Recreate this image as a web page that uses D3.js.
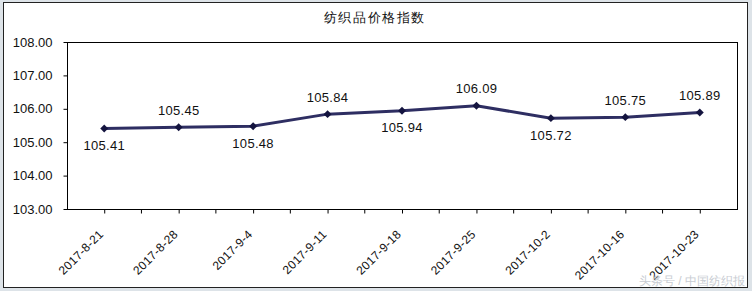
<html>
<script src='https://d3js.org/d3.v7.min.js'></script>
<style>
body {margin:0; background:#dde3e8;}
text {font-family: Arial, 'Liberation Sans', sans-serif; fill:#111;}
.axis path, .axis line {stroke:#000;}
</style>
<body onload='init()'>
<svg width=752 height=291></svg>
<script>
var title = '纺织品价格指数';
var dates = ['2017-8-21','2017-8-28','2017-9-4','2017-9-11','2017-9-18','2017-9-25','2017-10-2','2017-10-16','2017-10-23'];
var values = [105.41,105.45,105.48,105.84,105.94,106.09,105.72,105.75,105.89];
// label above (1) or below (-1) the point
var labelSide = [-1,1,-1,1,-1,1,-1,1,1];
var yTicks = [103,104,105,106,107,108];

function init() {
var svg = d3.select('svg');
var left = 67, right = 737, top = 42, bottom = 209;

svg.append('rect').attr('width',752).attr('height',291).attr('fill','#dde3e8');
svg.append('rect').attr('x',3.5).attr('y',2.5).attr('width',744).attr('height',285)
   .attr('fill','#fff').attr('stroke','#222');

var x = d3.scalePoint(dates,[left,right]).padding(0.5);
var y = d3.scaleLinear([103,108],[bottom,top]);

svg.append('text').attr('x',375).attr('y',22).attr('text-anchor','middle')
   .style('font-size','13px').style('letter-spacing','1.6px').text(title);

// plot frame
svg.append('rect').attr('x',left+0.5).attr('y',top+0.5)
   .attr('width',right-left).attr('height',bottom-top)
   .attr('fill','none').attr('stroke','#000');

svg.append('g').attr('class','axis')
  .attr('transform','translate('+(left+0.5)+',0)')
  .call(d3.axisLeft(y).tickValues(yTicks).tickSize(4).tickSizeOuter(0).tickPadding(11)
       .tickFormat(d3.format('.2f')))
  .call(g => g.selectAll('text').style('font-size','13px').attr('fill','#111'))
  .call(g => g.select('.domain').remove());

var xg = svg.append('g').attr('class','axis')
  .attr('transform','translate(0,'+(bottom+0.5)+')')
  .call(d3.axisBottom(x).tickSize(4).tickSizeOuter(0).tickFormat(''))
  .call(g => g.select('.domain').remove());

// boundary ticks between categories
var step = x.step();
xg.selectAll('line.mid').data(dates.slice(0,-1)).enter().append('line')
  .attr('class','mid').attr('stroke','#000')
  .attr('x1',d => x(d)+step/2).attr('x2',d => x(d)+step/2)
  .attr('y1',0).attr('y2',4);

svg.append('g').selectAll('text').data(dates).enter().append('text')
  .attr('transform',d => 'translate('+(x(d)-3)+','+(bottom+23)+') rotate(-45)')
  .attr('text-anchor','end').attr('dy','0.35em')
  .style('font-size','12px').style('letter-spacing','0.3px').text(d => d);

var line = d3.line().x((d,i) => x(dates[i])).y(d => y(d));
svg.append('path').datum(values).attr('d',line)
   .attr('fill','none').attr('stroke','#2e2e62').attr('stroke-width',3);

svg.append('g').selectAll('path').data(values).enter().append('path')
   .attr('d',d3.symbol(d3.symbolDiamond2,40))
   .attr('transform',(d,i) => 'translate('+x(dates[i])+','+y(d)+')')
   .attr('fill','#14143f');

svg.append('g').selectAll('text').data(values).enter().append('text')
   .attr('x',(d,i) => x(dates[i]))
   .attr('y',(d,i) => y(d) - labelSide[i]*17)
   .attr('dy','0.35em').attr('text-anchor','middle')
   .style('font-size','13px').style('letter-spacing','0.3px')
   .text(d => d.toFixed(2));

svg.append('text').attr('x',745).attr('y',285).attr('text-anchor','end')
   .style('font-size','12px').attr('fill','#c8ccd2').style('fill','#c8ccd2')
   .text('头条号 / 中国纺织报');
}
</script>
</body>
</html>
